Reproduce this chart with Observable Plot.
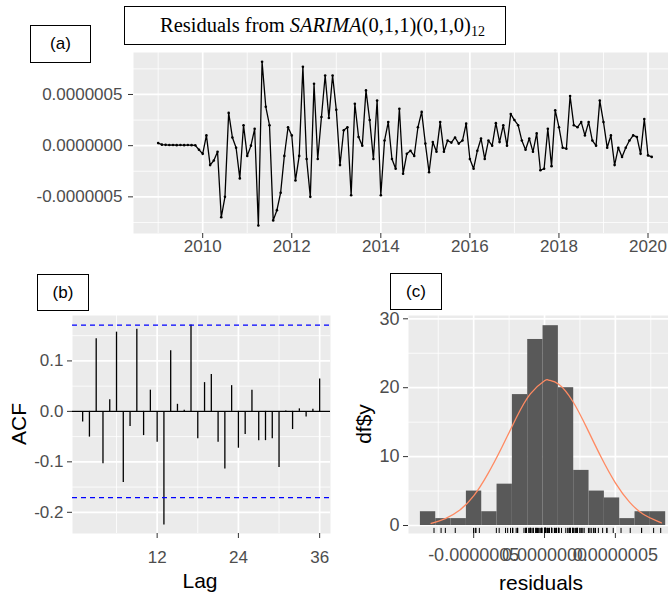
<!DOCTYPE html>
<html><head><meta charset="utf-8">
<script src="https://cdn.jsdelivr.net/npm/d3@7"></script>
<script src="https://cdn.jsdelivr.net/npm/@observablehq/plot@0.6"></script>
<style>
html,body{margin:0;padding:0;background:#fff;}
body{width:668px;height:596px;position:relative;overflow:hidden;font-family:"Liberation Sans",Arial,sans-serif;}
.abs{position:absolute;}
.box{position:absolute;border:1px solid #000;box-sizing:border-box;background:#fff;display:flex;align-items:center;justify-content:center;font-size:17px;color:#000;font-family:"Liberation Sans",Arial,sans-serif;}
.title{position:absolute;left:124px;top:6px;width:382px;height:39px;border:1px solid #000;box-sizing:border-box;font-family:"Liberation Serif","DejaVu Serif",serif;font-size:20.5px;line-height:37px;padding-left:35px;white-space:nowrap;color:#000;background:#fff;}
.title sub{font-size:14px;vertical-align:-4px;line-height:0;}
.axt{position:absolute;font-size:21px;color:#000;white-space:nowrap;line-height:1;font-family:"Liberation Sans",Arial,sans-serif;}
.rot{transform:translate(-50%,-50%) rotate(-90deg);}
.cen{transform:translate(-50%,-50%);}
</style></head><body>
<div id="pa" class="abs" style="left:0;top:0"></div>
<div id="pb" class="abs" style="left:0;top:270px"></div>
<div id="pc" class="abs" style="left:340px;top:270px"></div>
<div class="title">Residuals from <i>SARIMA</i>(0,1,1)(0,1,0)<sub>12</sub></div>
<div class="box" style="left:30px;top:25px;width:61px;height:38px">(a)</div>
<div class="box" style="left:37px;top:274px;width:52px;height:37px">(b)</div>
<div class="box" style="left:390px;top:273px;width:52px;height:37px">(c)</div>
<div class="axt rot" style="left:18px;top:424px">ACF</div>
<div class="axt cen" style="left:200px;top:580px">Lag</div>
<div class="axt rot" style="left:363px;top:424px">df$y</div>
<div class="axt cen" style="left:541px;top:582px">residuals</div>
<script>
// ---------- data ----------
const startYear = 2009; // first residual: Jan 2009, monthly
// residuals in units of 1e-7
const residualsE7 = [
  0.25, 0.1, 0.08, 0.06, 0.07, 0.05, 0.06, 0.05, 0.06, 0.05, 0.03, -0.4,
  -0.8, 1.0, -1.9, -1.45, -0.6, -7.0, -5.0, 3.2, 0.8, -0.2, -3.2, 2.0,
  -1.0, 0.0, 1.65, -7.8, 8.2, 3.8, 2.0, -7.3, -6.3, -4.6, -1.0, 1.8,
  1.0, -3.4, -1.0, 7.7, -1.3, -5.0, 6.05, -1.3, 2.8, 6.85, 2.7, 6.85,
  3.5, -1.9, 1.5, 1.8, -4.85, 4.1, 0.85, 0.0, 5.4, 2.5, -1.3, 4.4,
  -4.85, 0.5, 2.3, -1.3, -2.25, 3.6, -2.75, -0.8, -0.5, -1.0, 1.8, 3.3,
  0.2, -2.6, 0.35, -0.6, 2.3, -0.6, 0.5, 0.3, 0.8, 0.2, 0.5, 2.15,
  -1.3, -2.25, -0.5, 0.7, -1.3, 0.5, 0.0, 2.2, 0.35, 2.0, 0.0, 3.1,
  2.5, 2.0, 0.5, -0.4, 0.7, -0.6, 1.2, -2.4, -2.25, 1.65, -2.0, 3.45,
  1.8, -0.2, -0.3, 4.85, 2.0, 1.8, 2.3, 1.0, 2.3, 0.5, 0.0, 4.4,
  2.3, -0.2, 1.0, -1.9, -0.2, -1.1, -0.2, 0.5, 1.0, 0.85, -0.8, 2.6,
  -0.95, -1.1
];
const acfLags = [1,2,3,4,5,6,7,8,9,10,11,12,13,14,15,16,17,18,19,20,21,22,23,24,25,26,27,28,29,30,31,32,33,34,35,36];
const acfValues = [
  -0.021, -0.051, 0.144, -0.104, 0.023, 0.157, -0.141, -0.030, 0.163, -0.048, 0.042, -0.061,
  -0.225, 0.120, 0.014, 0.002, 0.171, -0.054, 0.057, 0.073, -0.061, -0.114, 0.051, -0.073,
  -0.046, 0.042, -0.058, -0.058, -0.054, -0.111, 0.001, -0.036, 0.005, -0.011, 0.004, 0.064
];
const acfBound = 0.171;
const histStartE7 = -8.76;
const histWidthE7 = 1.082;
const histCounts = [2, 1, 1, 5, 2, 6, 19, 27, 29, 20, 8, 5, 4, 1, 2, 2];
// fitted normal curve: [residual (1e-7), count]
const normalCurveE7 = [
  [-8.0, 0.3], [-7.0, 1.0], [-6.0, 2.2], [-5.0, 4.3], [-4.0, 7.5], [-3.0, 11.4],
  [-2.0, 15.6], [-1.0, 19.1], [0.0, 21.0], [0.3, 21.1], [1.0, 20.5], [2.0, 18.0],
  [3.0, 14.1], [4.0, 9.9], [5.0, 6.2], [6.0, 3.4], [7.0, 1.6], [8.0, 0.6], [8.25, 0.4]
];
const yearTicks = [2010, 2012, 2014, 2016, 2018, 2020];
const yearMinor = [2009, 2011, 2013, 2015, 2017, 2019];
const residTicks = [-5e-7, 0, 5e-7];
const residMinor = [-7.5e-7, -2.5e-7, 2.5e-7, 7.5e-7];
const acfYTicks = [-0.2, -0.1, 0, 0.1];
const acfYMinor = [-0.15, -0.05, 0.05, 0.15];
const lagTicks = [12, 24, 36];
const lagMinor = [6, 18, 30];
const countTicks = [0, 10, 20, 30];
const countMinor = [5, 15, 25];

// ---------- derived tables ----------
const resid = residualsE7.map((v, i) => ({t: startYear + i / 12, r: v * 1e-7}));
const acf = acfLags.map((lag, i) => ({lag, acf: acfValues[i]}));
const bins = histCounts.map((c, i) => ({
  x1: (histStartE7 + i * histWidthE7) * 1e-7,
  x2: (histStartE7 + (i + 1) * histWidthE7) * 1e-7,
  count: c
}));
const normal = normalCurveE7.map(([x, y]) => ({x: x * 1e-7, y}));

// ---------- style ----------
const FONT = '"Liberation Sans", Arial, Helvetica, sans-serif';
const TXT = "#4d4d4d", TCK = "#333333", PANEL = "#ebebeb";
const st = {background: "transparent", fontFamily: FONT, fontSize: "17px", color: TXT, overflow: "visible"};
const fmt7 = d => d.toFixed(7);
const fmt1 = d => d.toFixed(1);
const gmaj = (f, v) => f(v, {stroke: "#ffffff", strokeOpacity: 1, strokeWidth: 1.7});
const gmin = (f, v) => f(v, {stroke: "#ffffff", strokeOpacity: 1, strokeWidth: 0.8});
const ax = (f, v, o) => f(v, Object.assign({tickSize: 5, fontSize: 17, fill: TXT, stroke: TCK, label: null}, o));

// ---------- (a) residual time series ----------
const A = Plot.plot({
  width: 668, height: 270, marginLeft: 133, marginRight: 0, marginTop: 52, marginBottom: 37,
  style: st,
  x: {type: "linear", domain: [2008.446, 2020.46]},
  y: {type: "linear", domain: [-8.58e-7, 9.1e-7]},
  marks: [
    Plot.frame({fill: PANEL, stroke: "none"}),
    gmin(Plot.gridX, yearMinor), gmin(Plot.gridY, residMinor),
    gmaj(Plot.gridX, yearTicks), gmaj(Plot.gridY, residTicks),
    Plot.line(resid, {x: "t", y: "r", stroke: "#000", strokeWidth: 1.3}),
    Plot.dot(resid, {x: "t", y: "r", r: 1.3, fill: "#000", stroke: "none"}),
    ax(Plot.axisY, residTicks, {tickFormat: fmt7, tickPadding: 6}),
    ax(Plot.axisX, yearTicks, {tickFormat: d => String(d), tickPadding: 1})
  ]
});
document.getElementById("pa").appendChild(A);

// ---------- (b) ACF ----------
const B = Plot.plot({
  width: 340, height: 326, marginLeft: 72, marginRight: 10, marginTop: 45, marginBottom: 63,
  style: st,
  x: {type: "linear", domain: [-0.5, 37.6]},
  y: {type: "linear", domain: [-0.242, 0.19]},
  marks: [
    Plot.frame({fill: PANEL, stroke: "none"}),
    gmin(Plot.gridX, lagMinor), gmin(Plot.gridY, acfYMinor),
    gmaj(Plot.gridX, lagTicks), gmaj(Plot.gridY, acfYTicks),
    Plot.ruleY([0], {stroke: "#000", strokeWidth: 1.2}),
    Plot.ruleX(acf, {x: "lag", y1: 0, y2: "acf", stroke: "#000", strokeWidth: 1.3}),
    Plot.ruleY([-acfBound, acfBound], {stroke: "#0000ff", strokeWidth: 1.2, strokeDasharray: "5,4"}),
    ax(Plot.axisY, acfYTicks, {tickFormat: fmt1, tickPadding: 4}),
    ax(Plot.axisX, lagTicks, {tickFormat: d => String(d), tickPadding: 12})
  ]
});
document.getElementById("pb").appendChild(B);

// ---------- (c) histogram ----------
const C = Plot.plot({
  width: 328, height: 326, marginLeft: 68, marginRight: 0, marginTop: 45, marginBottom: 63,
  style: st,
  x: {type: "linear", domain: [-9.6e-7, 8.75e-7]},
  y: {type: "linear", domain: [-1.16, 30.48]},
  marks: [
    Plot.frame({fill: PANEL, stroke: "none"}),
    gmin(Plot.gridX, residMinor), gmin(Plot.gridY, countMinor),
    gmaj(Plot.gridX, residTicks), gmaj(Plot.gridY, countTicks),
    Plot.rect(bins, {x1: "x1", x2: "x2", y1: 0, y2: "count", fill: "#595959"}),
    Plot.line(normal, {x: "x", y: "y", stroke: "#ff8a62", strokeWidth: 1.3, curve: "natural"}),
    Plot.ruleX(resid, {x: "r", y1: -1.16, y2: -0.42, stroke: "#000", strokeWidth: 1}),
    ax(Plot.axisY, countTicks, {tickFormat: d => String(d), tickPadding: 4, fontSize: 18}),
    ax(Plot.axisX, residTicks, {tickFormat: fmt7, tickPadding: 10, fontSize: 18})
  ]
});
document.getElementById("pc").appendChild(C);
</script>
</body></html>
